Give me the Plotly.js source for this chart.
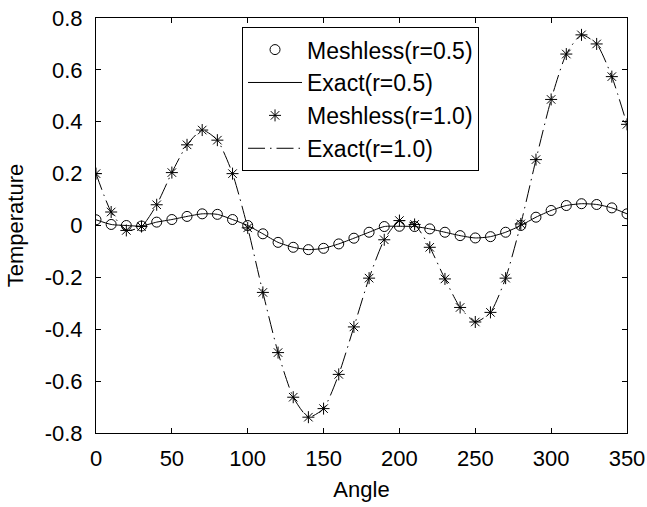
<!DOCTYPE html>
<html>
<head>
<meta charset="utf-8">
<script src="https://cdn.plot.ly/plotly-3.0.1.min.js"></script>
<style>html,body{margin:0;padding:0;background:#fff;}#chart{width:647px;height:507px;}</style>
</head>
<body>
<div id="chart"></div>
<script>
const angles = [0,10,20,30,40,50,60,70,80,90,100,110,120,130,140,150,160,170,180,190,200,210,220,230,240,250,260,270,280,290,300,310,320,330,340,350];
const meshlessR05 = [0.022,0.004,0.000,-0.002,0.013,0.023,0.035,0.045,0.043,0.023,0.000,-0.032,-0.065,-0.084,-0.093,-0.088,-0.071,-0.049,-0.026,-0.004,-0.003,-0.004,-0.013,-0.026,-0.039,-0.048,-0.043,-0.026,0.000,0.032,0.058,0.077,0.084,0.081,0.068,0.045];
const exactR05 = [0.022,0.004,0.000,-0.002,0.013,0.023,0.035,0.045,0.043,0.023,0.000,-0.032,-0.065,-0.084,-0.093,-0.088,-0.071,-0.049,-0.026,-0.004,-0.003,-0.004,-0.013,-0.026,-0.039,-0.048,-0.043,-0.026,0.000,0.032,0.058,0.077,0.084,0.081,0.068,0.045];
const meshlessR10 = [0.200,0.052,-0.019,-0.004,0.080,0.204,0.311,0.368,0.329,0.200,-0.009,-0.258,-0.490,-0.662,-0.739,-0.706,-0.574,-0.391,-0.203,-0.055,0.019,0.004,-0.084,-0.206,-0.316,-0.372,-0.335,-0.203,0.006,0.254,0.486,0.661,0.735,0.700,0.574,0.390];
const exactR10 = [0.200,0.052,-0.019,-0.004,0.080,0.204,0.311,0.368,0.329,0.200,-0.009,-0.258,-0.490,-0.662,-0.739,-0.706,-0.574,-0.391,-0.203,-0.055,0.019,0.004,-0.084,-0.206,-0.316,-0.372,-0.335,-0.203,0.006,0.254,0.486,0.661,0.735,0.700,0.574,0.390];
const xTicks = [0,50,100,150,200,250,300,350];
const yTicks = [-0.8,-0.6,-0.4,-0.2,0,0.2,0.4,0.6,0.8];
const yTickText = ['-0.8','-0.6','-0.4','-0.2','0','0.2','0.4','0.6','0.8'];
const names = ['Meshless(r=0.5)','Exact(r=0.5)','Meshless(r=1.0)','Exact(r=1.0)'];

const font = {family: '"Liberation Sans", Arial, Helvetica, sans-serif', size: 22, color: '#000'};
const legendFont = {family: '"Liberation Sans", Arial, Helvetica, sans-serif', size: 23, color: '#000'};

const traces = [
  {x: angles, y: meshlessR05, name: names[0], mode: 'markers', type: 'scatter',
   marker: {symbol: 'circle-open', size: 10, color: '#000', line: {width: 1, color: '#000'}}},
  {x: angles, y: exactR05, name: names[1], mode: 'lines', type: 'scatter',
   line: {color: '#000', width: 1, shape: 'spline', smoothing: 0.6}},
  {x: angles, y: meshlessR10, name: names[2], mode: 'markers', type: 'scatter',
   marker: {symbol: 'asterisk-open', size: 10, color: '#000', line: {width: 1, color: '#000'}}},
  {x: angles, y: exactR10, name: names[3], mode: 'lines', type: 'scatter',
   line: {color: '#000', width: 1, dash: '17px,5px,1.5px,5px', shape: 'spline', smoothing: 0.6}}
];

const layout = {
  width: 647, height: 507,
  margin: {l: 96, r: 20, t: 18, b: 74},
  paper_bgcolor: '#fff', plot_bgcolor: '#fff',
  font: font,
  showlegend: true,
  legend: {x: 0.275, y: 0.978, xanchor: 'left', yanchor: 'top',
           bordercolor: '#000', borderwidth: 1, bgcolor: '#fff',
           font: legendFont, itemwidth: 54, tracegroupgap: 0},
  xaxis: {range: [0, 350], tickvals: xTicks, ticks: 'inside', ticklen: 5, tickcolor: '#000',
          showline: true, linecolor: '#000', linewidth: 1, mirror: 'ticks',
          showgrid: false, zeroline: false, ticklabelstandoff: 6,
          title: {text: 'Angle', font: font, standoff: 11}},
  yaxis: {range: [-0.8, 0.8], tickvals: yTicks, ticktext: yTickText, ticks: 'inside', ticklen: 5, tickcolor: '#000',
          showline: true, linecolor: '#000', linewidth: 1, mirror: 'ticks',
          showgrid: false, zeroline: false, ticklabelstandoff: 8,
          title: {text: 'Temperature', font: font, standoff: 14}}
};

Plotly.newPlot('chart', traces, layout, {displayModeBar: false, staticPlot: true});
</script>
</body>
</html>
